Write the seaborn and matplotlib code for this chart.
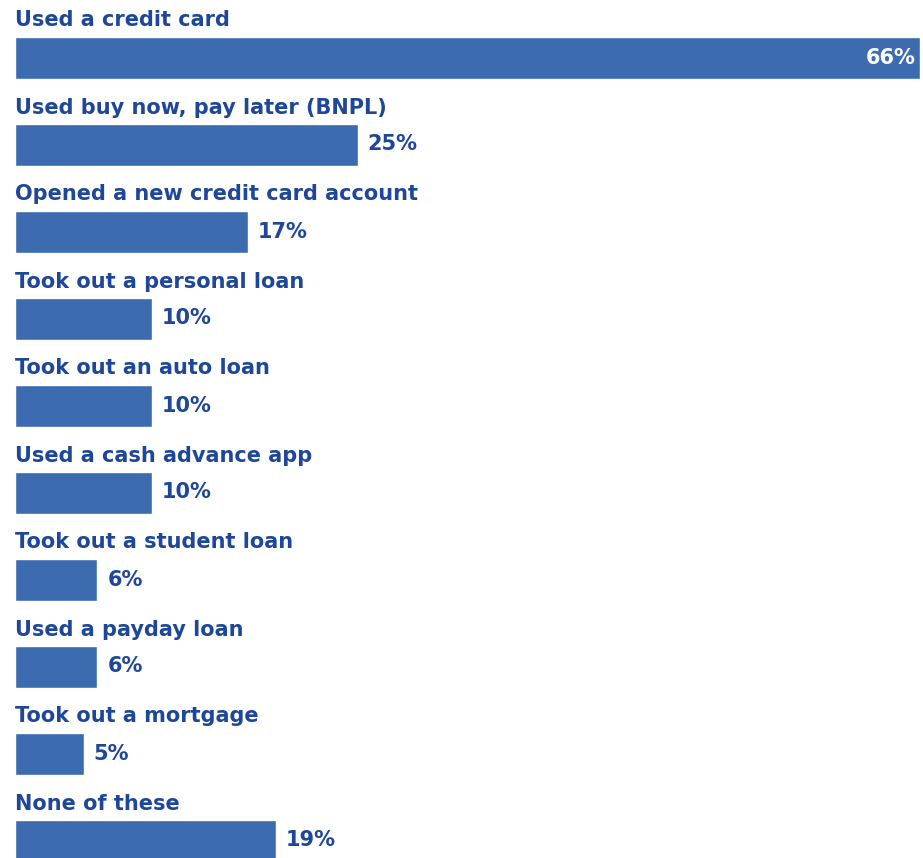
import matplotlib
matplotlib.use("Agg")
import matplotlib.pyplot as plt
import seaborn as sns
import pandas as pd

categories = [
    "Used a credit card",
    "Used buy now, pay later (BNPL)",
    "Opened a new credit card account",
    "Took out a personal loan",
    "Took out an auto loan",
    "Used a cash advance app",
    "Took out a student loan",
    "Used a payday loan",
    "Took out a mortgage",
    "None of these",
]
shares = [66, 25, 17, 10, 10, 10, 6, 6, 5, 19]
value_labels = [f"{v}%" for v in shares]

BAR = "#3D6BB0"
TEXT = "#1E4799"

sns.set_theme(style="white")
plt.rcParams["font.family"] = ["DejaVu Sans"]

df = pd.DataFrame({"item": categories, "share": shares})

W, H = 923, 858
fig = plt.figure(figsize=(W / 100, H / 100), dpi=100)
left_px, right_px = 15, 920
ax = fig.add_axes([left_px / W, 0, (right_px - left_px) / W, 1])

bar_h = 42 / 87
sns.barplot(data=df, x="share", y="item", orient="h", color=BAR,
            width=bar_h, saturation=1, ax=ax)

ax.set_xlim(0, max(shares))
ax.set_ylim((H - 57.5) / 87, -57.5 / 87)
ax.axis("off")

FS = 15
px = max(shares) / (right_px - left_px)
for i, (name, v, lab) in enumerate(zip(categories, shares, value_labels)):
    ax.text(0, i - bar_h / 2 - 10 / 87, name, color=TEXT, fontsize=FS,
            fontweight="bold", ha="left", va="baseline")
    if v == max(shares):
        ax.text(v - 4 * px, i, lab, color="white", fontsize=FS,
                fontweight="bold", ha="right", va="center")
    else:
        ax.text(v + 10 * px, i, lab, color=TEXT, fontsize=FS,
                fontweight="bold", ha="left", va="center")

fig.savefig("out.png", dpi=100, facecolor="white")
